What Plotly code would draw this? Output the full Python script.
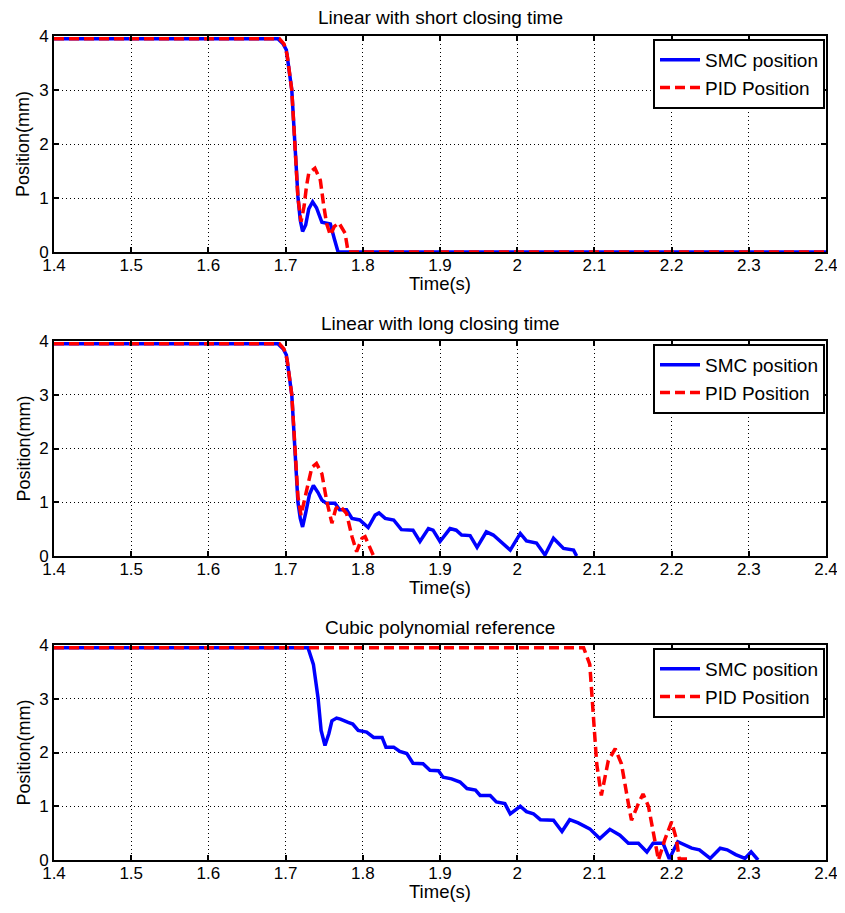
import plotly.graph_objects as go

# ---------------- data ----------------
t_smc_short = [1.40, 1.690, 1.697, 1.701, 1.708, 1.712, 1.716, 1.719, 1.722, 1.726, 1.730, 1.735,
               1.740, 1.747, 1.752, 1.758, 1.763, 1.768, 2.40]
y_smc_short = [3.95, 3.95, 3.85, 3.74, 3.0, 2.02, 1.02, 0.59, 0.38, 0.5, 0.8, 0.93,
               0.82, 0.55, 0.53, 0.52, 0.25, 0.0, 0.0]
t_pid_short = [1.40, 1.692, 1.698, 1.702, 1.708, 1.712, 1.716, 1.720, 1.724, 1.727, 1.730, 1.738,
               1.745, 1.749, 1.753, 1.758, 1.763, 1.769, 1.777, 1.781, 2.40]
y_pid_short = [3.95, 3.95, 3.85, 3.65, 3.0, 2.0, 1.0, 0.56, 0.85, 1.21, 1.46, 1.55,
               1.33, 0.9, 0.53, 0.31, 0.47, 0.54, 0.35, 0.0, 0.0]

t_smc_long = [1.40, 1.690, 1.697, 1.701, 1.708, 1.712, 1.716, 1.719, 1.722, 1.726, 1.731, 1.736,
              1.742, 1.747, 1.753, 1.764, 1.770, 1.779, 1.786, 1.796, 1.803, 1.807, 1.816, 1.821,
              1.829, 1.840, 1.850, 1.865, 1.874, 1.885, 1.891, 1.900, 1.913, 1.921, 1.928, 1.939,
              1.948, 1.960, 1.969, 1.978, 1.991, 2.004, 2.012, 2.025, 2.036, 2.047, 2.060, 2.073, 2.077]
y_smc_long = [3.95, 3.95, 3.85, 3.74, 3.0, 2.0, 1.0, 0.7, 0.54, 0.8, 1.15, 1.31,
              1.18, 1.04, 0.98, 0.98, 0.86, 0.86, 0.70, 0.67, 0.58, 0.53, 0.76, 0.80,
              0.70, 0.67, 0.49, 0.48, 0.27, 0.51, 0.48, 0.27, 0.51, 0.48, 0.39, 0.38,
              0.16, 0.45, 0.39, 0.28, 0.11, 0.42, 0.28, 0.24, 0.02, 0.33, 0.14, 0.11, 0.0]
t_pid_long = [1.40, 1.692, 1.698, 1.702, 1.708, 1.712, 1.716, 1.720, 1.727, 1.734, 1.740, 1.747,
              1.753, 1.760, 1.765, 1.770, 1.779, 1.786, 1.792, 1.799, 1.803, 1.809, 1.814]
y_pid_long = [3.95, 3.95, 3.85, 3.65, 3.0, 2.0, 1.1, 0.76, 1.22, 1.65, 1.72, 1.53,
              1.04, 0.61, 0.88, 0.94, 0.79, 0.36, 0.08, 0.33, 0.36, 0.17, 0.0]

t_smc_cubic = [1.40, 1.729, 1.736, 1.742, 1.746, 1.751, 1.756, 1.760, 1.766, 1.771, 1.781, 1.787,
               1.794, 1.805, 1.814, 1.825, 1.830, 1.840, 1.848, 1.857, 1.865, 1.878, 1.887, 1.898,
               1.904, 1.915, 1.926, 1.935, 1.946, 1.952, 1.965, 1.973, 1.984, 1.991, 2.004, 2.012,
               2.021, 2.030, 2.047, 2.058, 2.068, 2.079, 2.094, 2.107, 2.120, 2.133, 2.144, 2.157,
               2.168, 2.176, 2.189, 2.197, 2.208, 2.226, 2.236, 2.250, 2.263, 2.272, 2.283, 2.295,
               2.303, 2.312]
y_smc_cubic = [3.95, 3.95, 3.64, 3.02, 2.41, 2.13, 2.35, 2.59, 2.64, 2.62, 2.56, 2.53,
               2.41, 2.38, 2.28, 2.28, 2.10, 2.10, 2.02, 1.98, 1.80, 1.79, 1.67, 1.66,
               1.54, 1.51, 1.45, 1.33, 1.30, 1.20, 1.20, 1.08, 1.05, 0.86, 1.00, 0.90,
               0.86, 0.75, 0.74, 0.53, 0.75, 0.69, 0.58, 0.40, 0.57, 0.46, 0.31, 0.31,
               0.15, 0.31, 0.31, 0.02, 0.34, 0.22, 0.19, 0.03, 0.22, 0.19, 0.10, 0.03,
               0.15, 0.0]
t_pid_cubic = [1.40, 2.086, 2.094, 2.099, 2.103, 2.109, 2.118, 2.127, 2.135, 2.144, 2.148, 2.157,
               2.163, 2.170, 2.176, 2.183, 2.191, 2.200, 2.206, 2.210, 2.225]
y_pid_cubic = [3.95, 3.95, 3.64, 2.72, 1.79, 1.20, 1.85, 2.07, 1.79, 1.05, 0.74, 1.05,
               1.23, 1.0, 0.56, 0.0, 0.37, 0.71, 0.40, 0.02, 0.02]

titles = ["Linear with short closing time", "Linear with long closing time", "Cubic polynomial reference"]
series_names = ["SMC position", "PID Position"]
x_tick_vals = [1.4, 1.5, 1.6, 1.7, 1.8, 1.9, 2.0, 2.1, 2.2, 2.3, 2.4]
x_tick_text = ["1.4", "1.5", "1.6", "1.7", "1.8", "1.9", "2", "2.1", "2.2", "2.3", "2.4"]
y_tick_vals = [0, 1, 2, 3, 4]

panels = [
    (t_smc_short, y_smc_short, t_pid_short, y_pid_short),
    (t_smc_long, y_smc_long, t_pid_long, y_pid_long),
    (t_smc_cubic, y_smc_cubic, t_pid_cubic, y_pid_cubic),
]

# ---------------- layout geometry ----------------
# the page body has an 8px margin, so the figure sits at (8, 8) in the window
OFF = 8
W, H = 845 - OFF, 913 - OFF
# plot area in window pixels: x 54..826, y 36..860
PL, PR, PT, PB = 54, 826, 36, 860
ML, MR, MT, MB = PL - OFF, W - (PR - OFF), PT - OFF, H - (PB - OFF)
PH = PB - PT


def py(px):  # window pixel row -> paper y
    return (PB - px) / PH


def pxx(px):  # window pixel col -> paper x
    return (px - PL) / (PR - PL)


panel_px = [(36, 252), (341, 556), (645, 860)]
title_px = [18, 323, 627]
xlabel_px = [283, 588, 891]
legend_top_px = [39, 344, 648]

FONT = "Liberation Sans, Arial, sans-serif"
BLUE = "#0000FF"
RED = "#FF0000"

fig = go.Figure()
legend_keys = ["legend", "legend2", "legend3"]
for i, (ts, ys, tp, yp) in enumerate(panels):
    ax = "" if i == 0 else str(i + 1)
    fig.add_trace(go.Scatter(x=ts, y=ys, mode="lines", name=series_names[0],
                             line=dict(color=BLUE, width=3.5),
                             xaxis="x" + ax, yaxis="y" + ax, legend=legend_keys[i]))
    fig.add_trace(go.Scatter(x=tp, y=yp, mode="lines", name=series_names[1],
                             line=dict(color=RED, width=3.5, dash="10px,5px"),
                             xaxis="x" + ax, yaxis="y" + ax, legend=legend_keys[i]))

axis_common = dict(showline=True, linecolor="black", linewidth=2, mirror="ticks",
                   ticks="inside", ticklen=5, tickwidth=2, tickcolor="black",
                   showgrid=True, gridcolor="black", gridwidth=1, griddash="1px,3px",
                   zeroline=False, tickfont=dict(family=FONT, size=17, color="black"))

layout = dict(width=W, height=H, margin=dict(l=ML, r=MR, t=MT, b=MB, autoexpand=False),
              paper_bgcolor="white", plot_bgcolor="white",
              font=dict(family=FONT, color="black"), annotations=[])

for i in range(3):
    ax = "" if i == 0 else str(i + 1)
    top, bot = panel_px[i]
    layout["xaxis" + ax] = dict(axis_common, range=[1.4, 2.4], tickvals=x_tick_vals,
                                ticktext=x_tick_text, anchor="y" + ax, domain=[0, 1],
                                ticklabelstandoff=-3)
    layout["yaxis" + ax] = dict(axis_common, range=[0, 4], tickvals=y_tick_vals,
                                anchor="x" + ax, domain=[py(bot), py(top)])
    layout[legend_keys[i]] = dict(x=pxx(825), xanchor="right", y=py(legend_top_px[i]), yanchor="top",
                                  bgcolor="white", bordercolor="black", borderwidth=2,
                                  font=dict(family=FONT, size=19, color="black"),
                                  tracegroupgap=0, itemwidth=40)
    layout["annotations"].append(dict(text=titles[i], x=0.5, y=py(title_px[i]), xref="paper",
                                      yref="paper", showarrow=False, xanchor="center",
                                      yanchor="middle", font=dict(family=FONT, size=19)))
    layout["annotations"].append(dict(text="Time(s)", x=0.5, y=py(xlabel_px[i]), xref="paper",
                                      yref="paper", showarrow=False, xanchor="center",
                                      yanchor="middle", font=dict(family=FONT, size=18.5)))
    layout["annotations"].append(dict(text="Position(mm)", x=pxx(23), y=py((top + bot) / 2),
                                      xref="paper", yref="paper", showarrow=False, textangle=-90,
                                      xanchor="center", yanchor="middle",
                                      font=dict(family=FONT, size=18)))

fig.update_layout(**layout)
fig.write_html("out.html")
